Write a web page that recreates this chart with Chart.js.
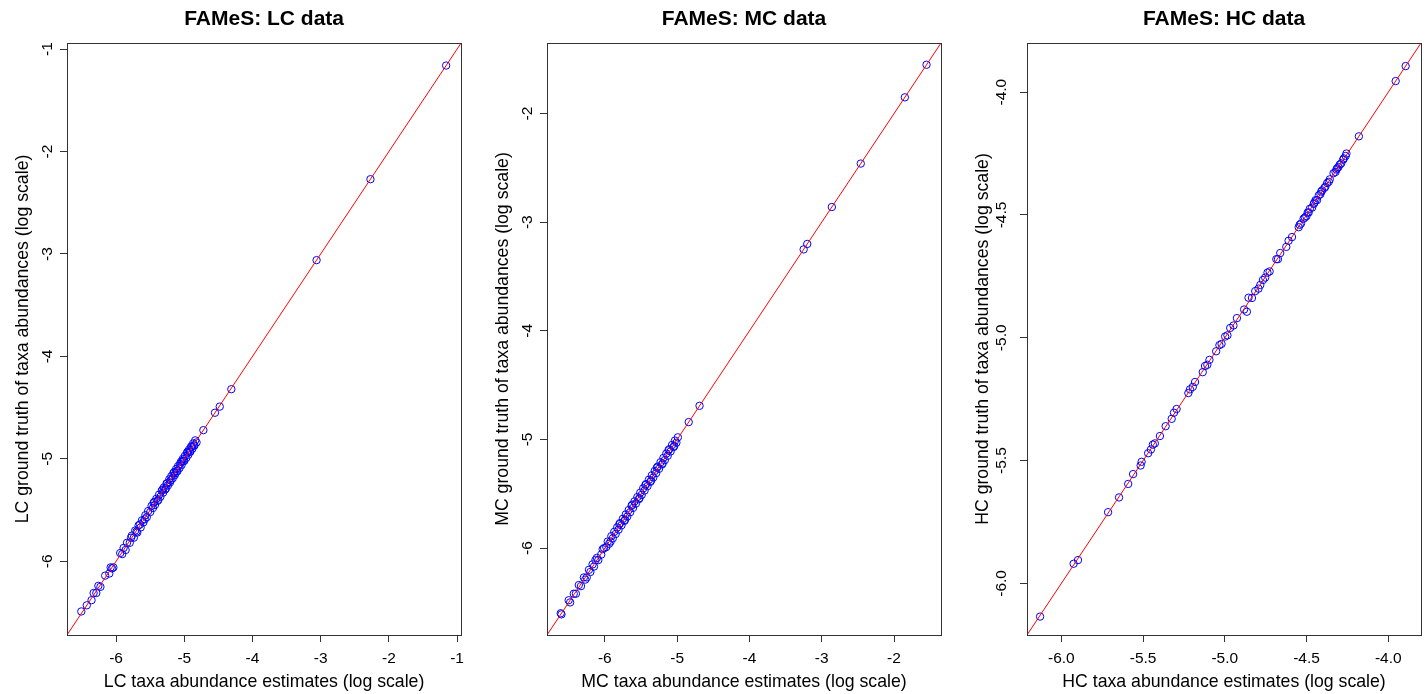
<!DOCTYPE html>
<html>
<head>
<meta charset="utf-8">
<script src="https://cdn.jsdelivr.net/npm/chart.js@4/dist/chart.umd.min.js"></script>
<style>
  body { margin: 0; background: #fff; }
  #wrap { position: relative; width: 1427px; height: 694px; }
  #wrap canvas { position: absolute; top: 0; }
</style>
</head>
<body>
<div id="wrap">
  <canvas id="lcChart" width="471" height="694" style="left:0px"></canvas>
  <canvas id="mcChart" width="467" height="694" style="left:480px"></canvas>
  <canvas id="hcChart" width="467" height="694" style="left:960px"></canvas>
</div>
<script>
// LC panel: estimate (x) vs ground truth (y), log scale
const lcEst = [
  -6.51, -6.43, -6.36, -6.33, -6.29, -6.26, -6.23, -6.16, -6.10, -6.08,
  -6.06, -6.04, -5.94, -5.91, -5.89, -5.86, -5.84, -5.80, -5.77, -5.74,
  -5.72, -5.69, -5.67, -5.64, -5.62, -5.60, -5.57, -5.55, -5.53, -5.50,
  -5.48, -5.46, -5.44, -5.43, -5.41, -5.39, -5.37, -5.35, -5.33, -5.31,
  -5.30, -5.28, -5.26, -5.24, -5.22, -5.21, -5.19, -5.17, -5.16, -5.14,
  -5.12, -5.10, -5.09, -5.07, -5.05, -5.04, -5.02, -5.00, -4.99, -4.97,
  -4.96, -4.94, -4.93, -4.91, -4.90, -4.88, -4.87, -4.85, -4.84, -4.82,
  -5.45, -5.38, -5.32, -5.27, -5.20, -5.15, -5.11, -5.06, -5.01, -4.95,
  -4.92, -4.89, -4.86, -5.58, -5.65, -5.70, -5.78, -5.25, -5.13, -5.03,
  -4.72, -4.55, -4.48, -4.31, -3.06, -2.27, -1.16
];
const lcTruth = [
  -6.49, -6.43, -6.38, -6.31, -6.31, -6.24, -6.25, -6.14, -6.12, -6.06,
  -6.07, -6.06, -5.92, -5.93, -5.87, -5.89, -5.82, -5.82, -5.75, -5.77,
  -5.70, -5.72, -5.65, -5.67, -5.60, -5.62, -5.55, -5.57, -5.51, -5.52,
  -5.46, -5.48, -5.42, -5.45, -5.39, -5.41, -5.35, -5.37, -5.31, -5.33,
  -5.28, -5.30, -5.24, -5.26, -5.20, -5.23, -5.17, -5.19, -5.14, -5.16,
  -5.10, -5.12, -5.07, -5.09, -5.03, -5.06, -5.00, -5.02, -4.97, -4.99,
  -4.94, -4.96, -4.91, -4.93, -4.88, -4.90, -4.85, -4.87, -4.82, -4.84,
  -5.43, -5.40, -5.30, -5.29, -5.21, -5.13, -5.12, -5.05, -5.02, -4.93,
  -4.93, -4.88, -4.87, -5.59, -5.64, -5.71, -5.77, -5.24, -5.14, -5.02,
  -4.72, -4.55, -4.49, -4.32, -3.06, -2.27, -1.16
];
const lcRange = [-6.72, -0.94];
const lcTicks = [-6, -5, -4, -3, -2, -1];
const lcTickLabels = ['-6', '-5', '-4', '-3', '-2', '-1'];

// MC panel
const mcEst = [
  -6.61, -6.60, -6.50, -6.48, -6.43, -6.40, -6.36, -6.33, -6.29, -6.27,
  -6.22, -6.20, -6.17, -6.15, -6.11, -6.09, -6.05, -6.03, -6.01, -5.98,
  -5.96, -5.94, -5.91, -5.89, -5.87, -5.85, -5.83, -5.81, -5.79, -5.77,
  -5.75, -5.73, -5.71, -5.69, -5.67, -5.65, -5.63, -5.61, -5.59, -5.57,
  -5.55, -5.53, -5.51, -5.49, -5.47, -5.45, -5.43, -5.41, -5.39, -5.37,
  -5.35, -5.33, -5.31, -5.29, -5.27, -5.25, -5.23, -5.21, -5.19, -5.17,
  -5.15, -5.13, -5.11, -5.09, -5.07, -5.05, -5.03, -5.01, -4.99, -4.84,
  -5.92, -5.80, -5.72, -5.62, -5.52, -5.44, -5.36, -5.28, -5.20, -5.12,
  -5.04, -6.13, -6.25,
  -4.69, -3.25, -3.20, -2.86, -2.46, -1.85, -1.55
];
const mcTruth = [
  -6.60, -6.61, -6.48, -6.50, -6.42, -6.42, -6.34, -6.35, -6.27, -6.29,
  -6.20, -6.22, -6.15, -6.17, -6.09, -6.11, -6.06, -6.01, -6.00, -5.99,
  -5.94, -5.96, -5.89, -5.91, -5.85, -5.87, -5.81, -5.83, -5.77, -5.79,
  -5.73, -5.75, -5.69, -5.71, -5.65, -5.67, -5.61, -5.63, -5.57, -5.59,
  -5.53, -5.55, -5.49, -5.51, -5.45, -5.47, -5.41, -5.43, -5.37, -5.39,
  -5.33, -5.35, -5.29, -5.31, -5.25, -5.27, -5.21, -5.23, -5.17, -5.19,
  -5.13, -5.15, -5.09, -5.11, -5.05, -5.07, -5.01, -5.03, -4.98, -4.84,
  -5.94, -5.78, -5.74, -5.60, -5.54, -5.42, -5.38, -5.26, -5.22, -5.10,
  -5.06, -6.11, -6.27,
  -4.69, -3.25, -3.20, -2.86, -2.46, -1.85, -1.55
];
const mcRange = [-6.80, -1.35];
const mcTicks = [-6, -5, -4, -3, -2];
const mcTickLabels = ['-6', '-5', '-4', '-3', '-2'];

// HC panel
const hcEst = [
  -6.130, -5.925, -5.898, -5.714, -5.647, -5.591, -5.561, -5.515, -5.509, -5.469,
  -5.452, -5.440, -5.428, -5.397, -5.362, -5.325, -5.311, -5.295, -5.223, -5.213,
  -5.196, -5.182, -5.135, -5.121, -5.107, -5.094, -5.053, -5.033, -5.020, -4.998,
  -4.984, -4.967, -4.947, -4.926, -4.882, -4.865, -4.855, -4.834, -4.814, -4.794,
  -4.783, -4.767, -4.753, -4.739, -4.726, -4.685, -4.675, -4.661, -4.624, -4.610,
  -4.589, -4.548, -4.542, -4.534, -4.518, -4.510, -4.501, -4.493, -4.487, -4.480,
  -4.466, -4.456, -4.452, -4.445, -4.436, -4.425, -4.415, -4.410, -4.405, -4.391,
  -4.385, -4.374, -4.364, -4.358, -4.335, -4.323, -4.317, -4.313, -4.305, -4.297,
  -4.288, -4.276, -4.272, -4.261, -4.256, -4.180, -3.955, -3.894
];
const hcTruth = [
  -6.135, -5.920, -5.905, -5.710, -5.650, -5.595, -5.555, -5.520, -5.505, -5.470,
  -5.455, -5.435, -5.430, -5.400, -5.360, -5.330, -5.305, -5.290, -5.225, -5.210,
  -5.200, -5.180, -5.140, -5.115, -5.110, -5.090, -5.055, -5.030, -5.025, -4.995,
  -4.990, -4.960, -4.950, -4.920, -4.885, -4.894, -4.837, -4.838, -4.810, -4.800,
  -4.785, -4.765, -4.755, -4.735, -4.730, -4.680, -4.680, -4.655, -4.630, -4.605,
  -4.590, -4.550, -4.540, -4.535, -4.515, -4.510, -4.505, -4.490, -4.490, -4.475,
  -4.470, -4.455, -4.450, -4.440, -4.440, -4.420, -4.415, -4.405, -4.400, -4.390,
  -4.385, -4.370, -4.365, -4.355, -4.330, -4.325, -4.315, -4.310, -4.305, -4.295,
  -4.290, -4.275, -4.270, -4.260, -4.250, -4.180, -3.955, -3.894
];
const hcRange = [-6.21, -3.80];
const hcTicks = [-6.0, -5.5, -5.0, -4.5, -4.0];
const hcTickLabels = ['-6.0', '-5.5', '-5.0', '-4.5', '-4.0'];

Chart.defaults.font.family = "'Liberation Sans', Arial, sans-serif";
Chart.defaults.color = '#000';

// R-style frame around the plot region plus a bold title centred over it
const framePlugin = {
    id: 'frame',
    afterDraw(chart, args, opts) {
        const { ctx, chartArea: a } = chart;
        ctx.save();
        ctx.strokeStyle = '#333';
        ctx.lineWidth = 1;
        ctx.strokeRect(Math.round(a.left) + 0.5, Math.round(a.top) + 0.5,
            Math.round(a.right - a.left), Math.round(a.bottom - a.top));
        ctx.fillStyle = '#000';
        ctx.font = "bold 21px 'Liberation Sans', Arial, sans-serif";
        ctx.textAlign = 'center';
        ctx.textBaseline = 'middle';
        ctx.fillText(opts.text, (a.left + a.right) / 2, 19);
        ctx.restore();
    }
};

const axisOptions = (range, ticks, labels, title, isY) => ({
    type: 'linear',
    position: isY ? 'left' : 'bottom',
    min: range[0],
    max: range[1],
    afterBuildTicks: s => { s.ticks = ticks.map(v => ({ value: v })); },
    afterFit: s => {
        if (isY) s.width = 67;
        else s.height = 59;
    },
    grid: { drawOnChartArea: false, drawTicks: true, tickLength: 7, color: '#333' },
    border: { display: true, color: '#333' },
    ticks: {
        autoSkip: false,
        callback: (v, i) => labels[i],
        font: { size: 15.5 },
        color: '#000',
        padding: isY ? 5 : 7,
        minRotation: isY ? 90 : 0,
        maxRotation: isY ? 90 : 0,
        crossAlign: isY ? 'center' : 'near'
    },
    title: {
        display: true,
        text: title,
        font: { size: 17.7 },
        color: '#000',
        padding: isY ? { top: 12, bottom: 0 } : { top: 0, bottom: 1 }
    }
});

const createPanel = (id, est, truth, range, ticks, labels, title, xTitle, yTitle) => {
    const points = est.map((x, i) => ({ x, y: truth[i] }));
    new Chart(document.getElementById(id).getContext('2d'), {
        type: 'scatter',
        data: {
            datasets: [{
                // identity line y = x across the plot region
                data: [{ x: range[0], y: range[0] }, { x: range[1], y: range[1] }],
                showLine: true,
                borderColor: 'red',
                borderWidth: 1,
                pointRadius: 0
            }, {
                data: points,
                pointStyle: 'circle',
                pointRadius: 3.7,
                pointBorderWidth: 1,
                pointBackgroundColor: 'rgba(0,0,0,0)',
                pointBorderColor: '#0000ff',
                pointHoverRadius: 3.7
            }]
        },
        options: {
            responsive: false,
            animation: false,
            events: [],
            layout: { padding: { top: 43, right: 6, left: 0, bottom: 0 } },
            plugins: {
                legend: { display: false },
                tooltip: { enabled: false },
                frame: { text: title }
            },
            scales: {
                x: axisOptions(range, ticks, labels, xTitle, false),
                y: axisOptions(range, ticks, labels, yTitle, true)
            }
        },
        plugins: [framePlugin]
    });
};

createPanel('lcChart', lcEst, lcTruth, lcRange, lcTicks, lcTickLabels,
    'FAMeS: LC data', 'LC taxa abundance estimates (log scale)', 'LC ground truth of taxa abundances (log scale)');
createPanel('mcChart', mcEst, mcTruth, mcRange, mcTicks, mcTickLabels,
    'FAMeS: MC data', 'MC taxa abundance estimates (log scale)', 'MC ground truth of taxa abundances (log scale)');
createPanel('hcChart', hcEst, hcTruth, hcRange, hcTicks, hcTickLabels,
    'FAMeS: HC data', 'HC taxa abundance estimates (log scale)', 'HC ground truth of taxa abundances (log scale)');
</script>
</body>
</html>
